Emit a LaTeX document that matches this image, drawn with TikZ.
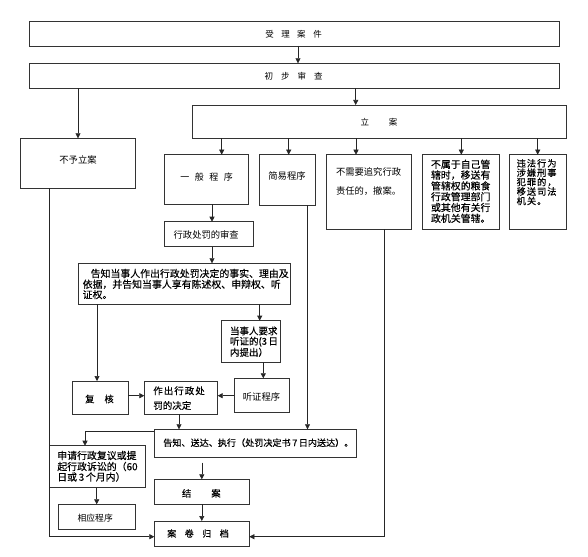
\documentclass[tikz,border=0pt]{standalone}
\usepackage{fontspec}
\setmainfont{Noto Sans CJK SC}
\newfontfamily\semib{Noto Sans CJK SC}[FakeBold=0.3]
\usetikzlibrary{arrows.meta}
\begin{document}
\begin{tikzpicture}[x=1pt,y=-1pt,
  box/.style={draw=black!80, line width=0.6pt, inner sep=0pt, outer sep=0pt, anchor=center},
  arr/.style={draw=black!85, line width=0.6pt, -{Triangle[length=5pt,width=5pt]}},
  txt/.style={inner sep=0pt, outer sep=0pt, font=\fontsize{9.3}{10}\selectfont},
  tl/.style={txt, anchor=west},
]
\useasboundingbox (0,0) rectangle (588,556);
\fill[white] (0,0) rectangle (588,556);

% boxes
\node[box, minimum width=530.4pt, minimum height=24.3pt] (A) at (294.5,33.85) {};
\node[box, minimum width=530.4pt, minimum height=25pt] (B) at (294.5,75.8) {};
\node[box, minimum width=374pt, minimum height=33.3pt] (C) at (379.7,121.65) {};
\node[box, minimum width=114.6pt, minimum height=50pt] (D) at (78,163.3) {};
\node[box, minimum width=84.3pt, minimum height=49.6pt] (E) at (206.15,179.5) {};
\node[box, minimum width=56pt, minimum height=50.3pt] (F) at (287.7,179.85) {};
\node[box, minimum width=84.3pt, minimum height=74.6pt] (G) at (368.85,192) {};
\node[box, minimum width=76.6pt, minimum height=74.6pt] (H) at (461,192) {};
\node[box, minimum width=57.4pt, minimum height=74.6pt] (I) at (538,192) {};
\node[box, minimum width=89.3pt, minimum height=25pt] (J) at (208.65,234.2) {};
\node[box, minimum width=212.7pt, minimum height=41pt] (K) at (184.35,283.8) {};
\node[box, minimum width=59pt, minimum height=41.6pt] (L) at (251.2,341.5) {};
\node[box, minimum width=55.4pt, minimum height=33.7pt] (M) at (262,395.15) {};
\node[box, minimum width=56pt, minimum height=33.3pt] (N) at (100.3,397.65) {};
\node[box, minimum width=73.4pt, minimum height=33.3pt] (O) at (181,397.65) {};
\node[box, minimum width=201.7pt, minimum height=28pt] (P) at (255.15,443.3) {};
\node[box, minimum width=96pt, minimum height=42pt] (Q) at (97,466.7) {};
\node[box, minimum width=77pt, minimum height=25pt] (R) at (97.2,516.8) {};
\node[box, minimum width=95pt, minimum height=24.7pt] (S) at (201.8,491.65) {};
\node[box, minimum width=95pt, minimum height=25pt] (T) at (201.8,533.5) {};

% texts
\node[txt, font=\fontsize{8.5}{10}\selectfont] (tA) at (293.5,34) {受\hspace{7.5pt}理\hspace{7.5pt}案\hspace{7.5pt}件};
\node[txt, font=\fontsize{8.5}{10}\selectfont] (tB) at (293.5,76) {初\hspace{8pt}步\hspace{8pt}审\hspace{8pt}查};
\node[txt, font=\fontsize{8.5}{10}\selectfont] (tC) at (379,122.7) {立\hspace{19.8pt}案};
\node[txt] (tD) at (78,160) {不予立案};
\node[txt, font=\fontsize{9}{10}\selectfont] (tE) at (206.5,177) {一\hspace{5.5pt}般\hspace{5.5pt}程\hspace{5.5pt}序};
\node[txt] (tF) at (287,176) {简易程序};
\node[tl] (tG1) at (336,171.7) {不需要追究行政};
\node[tl] (tG2) at (336,191) {责任的，撤案。};
\begin{scope}[every node/.style={tl, font=\semib\fontsize{9.9}{10}\selectfont}]
\node (tH1) at (431,164.3) {不属于自己管};
\node (tH2) at (431,175.1) {辖时，移送有};
\node (tH3) at (431,185.9) {管辖权的粮食};
\node (tH4) at (431,196.7) {行政管理部门};
\node (tH5) at (431,207.5) {或其他有关行};
\node (tH6) at (431,218.3) {政机关管辖。};
\node (tK1) at (90.7,273.5) {告知当事人作出行政处罚决定的事实、理由及};
\node (tK2) at (82.7,284.3) {依据，并告知当事人享有陈述权、申辩权、听};
\node (tK3) at (82.7,294.6) {证权。};
\node (tQ1) at (57.3,455.5) {申请行政复议或提};
\node (tQ2) at (57.3,466.5) {起行政诉讼的（60};
\node (tQ3) at (57.3,477) {日或\,3\,个月内）};
\end{scope}
\begin{scope}[every node/.style={tl, font=\semib\fontsize{9.2}{10}\selectfont}]
\node (tI1) at (516.7,163.3) {违\hspace{1pt}法\hspace{1pt}行\hspace{1pt}为};
\node (tI2) at (516.7,172.7) {涉\hspace{1pt}嫌\hspace{1pt}刑\hspace{1pt}事};
\node (tI3) at (516.7,182.1) {犯\hspace{1pt}罪\hspace{1pt}的\hspace{1pt}，};
\node (tI4) at (516.7,191.5) {移\hspace{1pt}送\hspace{1pt}司\hspace{1pt}法};
\node (tI5) at (516.7,200.9) {机\hspace{1pt}关\hspace{1pt}。};
\end{scope}
\node[txt] (tJ) at (206.2,235) {行政处罚的审查};
\begin{scope}[every node/.style={tl, font=\semib\fontsize{9.5}{10}\selectfont}]
\node (tL1) at (230,330.9) {当事人要求};
\node (tL2) at (230,341.7) {听证的(3\,日};
\node (tL3) at (230,352.3) {内提出）};
\node (tO1) at (153.3,390.8) {作\hspace{1pt}出\hspace{1pt}行\hspace{1pt}政\hspace{1pt}处};
\node (tO2) at (153.3,405.5) {罚的决定};
\end{scope}
\node[txt] (tM) at (261.5,396.5) {听证程序};
\node[txt, font=\semib\fontsize{9.3}{10}\selectfont] (tN) at (99.5,399) {复\hspace{10pt}核};
\node[tl, font=\semib\fontsize{9.1}{10}\selectfont] (tP) at (163.3,442.7) {告知、送达、执行（处罚决定书\,7\,日内送达）。};
\node[txt, font=\fontsize{8.8}{10}\selectfont] (tR) at (95.2,518) {相应程序};
\node[txt, font=\semib\fontsize{9.3}{10}\selectfont] (tS) at (201.3,493.3) {结\hspace{20pt}案};
\node[txt, font=\semib\fontsize{9}{10}\selectfont] (tT) at (198,533.5) {案\hspace{8.5pt}卷\hspace{8.5pt}归\hspace{8.5pt}档};

% connectors
\draw[arr] (A.south -| 298,0) -- (B.north -| 298,0);
\draw[arr] (B.south -| 78,0) -- (D.north -| 78,0);
\draw[arr] (B.south -| 355.7,0) -- (C.north -| 355.7,0);
\draw[arr] (C.south -| 221.7,0) -- (E.north -| 221.7,0);
\draw[arr] (C.south -| 288.7,0) -- (F.north -| 288.7,0);
\draw[arr] (C.south -| 356,0) -- (G.north -| 356,0);
\draw[arr] (C.south -| 461.3,0) -- (H.north -| 461.3,0);
\draw[arr] (C.south -| 537.7,0) -- (I.north -| 537.7,0);
\draw[arr] (E.south -| 212,0) -- (J.north -| 212,0);
\draw[arr] (J.south -| 212,0) -- (K.north -| 212,0);
\draw[arr] (K.south -| 97,0) -- (N.north -| 97,0);
\draw[arr] (K.south -| 259.7,0) -- (L.north -| 259.7,0);
\draw[arr] (L.south -| 263.3,0) -- (M.north -| 263.3,0);
\draw[arr] (N.east |- 0,395.7) -- (O.west |- 0,395.7);
\draw[arr] (M.west |- 0,395.7) -- (O.east |- 0,395.7);
\draw[arr] (O.south -| 179,0) -- (P.north -| 179,0);
\draw[arr] (F.south -| 307.5,0) -- (P.north -| 307.5,0);
\draw[arr] (P.west |- 0,431.5) -| (Q.north -| 85,0);
\draw[arr] (Q.south -| 96.7,0) -- (R.north -| 96.7,0);
\draw[arr] (S.north |- 0,462.7) -- (S.north);
\draw[arr] (S) -- (T);
\draw[arr] (D.south -| 49.3,0) |- (T.west |- 0,536.7);
\draw[arr] (G.south -| 384.5,0) |- (T.east |- 0,536.7);
\end{tikzpicture}
\end{document}
